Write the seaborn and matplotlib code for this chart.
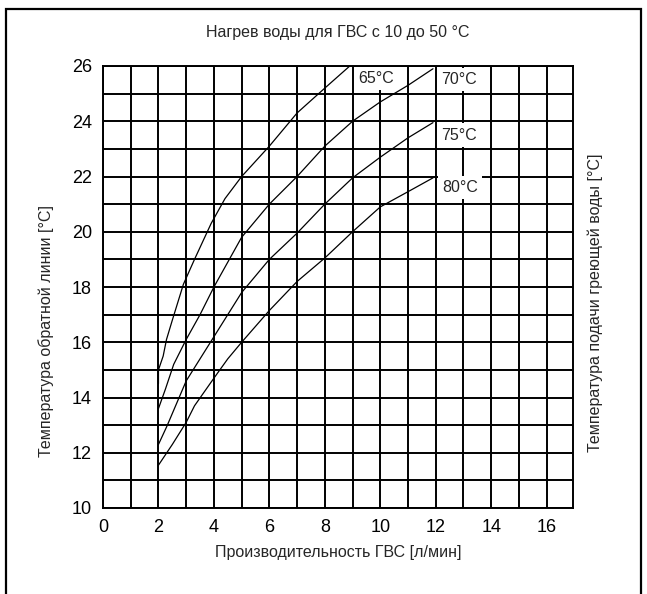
import matplotlib
matplotlib.use("Agg")
import matplotlib.pyplot as plt
import seaborn as sns
import pandas as pd
from matplotlib.patches import Rectangle

# ---- data ----
x65 = [2.0, 2.0, 2.17, 2.29, 2.5, 2.9, 3.3, 3.9, 4.4, 5.0, 6.0, 7.0, 8.0, 8.9]
y65 = [14.5, 15.0, 15.5, 16.1, 16.8, 18.1, 19.0, 20.3, 21.2, 22.0, 23.1, 24.3, 25.2, 26.0]

x70 = [2.0, 2.25, 2.55, 3.0, 3.5, 4.0, 4.5, 5.0, 6.0, 7.0, 8.0, 9.0, 10.0, 11.0, 11.9]
y70 = [13.6, 14.3, 15.2, 16.1, 17.0, 18.0, 18.9, 19.8, 21.0, 22.0, 23.1, 24.0, 24.7, 25.3, 25.9]

x75 = [2.0, 2.3, 3.0, 3.5, 4.0, 4.5, 5.0, 6.0, 7.0, 8.0, 9.0, 10.0, 11.0, 11.9]
y75 = [12.3, 12.95, 14.6, 15.4, 16.2, 17.0, 17.8, 19.0, 19.95, 21.0, 21.95, 22.7, 23.4, 23.95]

x80 = [2.0, 2.5, 3.0, 3.3, 4.0, 4.5, 5.0, 6.0, 7.0, 8.0, 9.0, 10.0, 11.0, 11.9]
y80 = [11.55, 12.3, 13.1, 13.7, 14.7, 15.4, 16.0, 17.15, 18.2, 19.05, 20.0, 20.9, 21.45, 21.95]

curve_names = ["65°C", "70°C", "75°C", "80°C"]
label_x = [9.85, 12.85, 12.85, 12.88]
label_y = [25.55, 25.5, 23.5, 21.6]

x_ticks = list(range(0, 17))
y_ticks = list(range(10, 27))
x_ticklabels = [str(v) if v % 2 == 0 else "" for v in x_ticks]
y_ticklabels = [str(v) if v % 2 == 0 else "" for v in y_ticks]

title = "Нагрев воды для ГВС с 10 до 50 °C"
xlabel = "Производительность ГВС [л/мин]"
ylabel_left = "Температура обратной линии [°C]"
ylabel_right = "Температура подачи греющей воды [°C]"

frames = []
for name, xs, ys in zip(curve_names, [x65, x70, x75, x80], [y65, y70, y75, y80]):
    frames.append(pd.DataFrame({"flow": xs, "temp": ys, "curve": name}))
df = pd.concat(frames, ignore_index=True)

# ---- plotting ----
sns.set_style("white")
plt.rcParams["font.family"] = ["Liberation Sans", "DejaVu Sans"]

fig = plt.figure(figsize=(6.47, 5.94), dpi=100)
ax = fig.add_axes([103 / 647, 1 - 508 / 594, 470 / 647, 442 / 594])

sns.lineplot(data=df, x="flow", y="temp", hue="curve", units="curve",
             estimator=None, sort=False, palette=["black"] * 4,
             linewidth=0.9, legend=False, ax=ax, zorder=3)

ax.set_xlim(0, 16.95)
ax.set_ylim(10, 26)
ax.set_xticks(x_ticks)
ax.set_xticklabels(x_ticklabels)
ax.set_yticks(y_ticks)
ax.set_yticklabels(y_ticklabels)
ax.tick_params(length=0, pad=8, labelsize=13, colors="black")
ax.grid(True, color="black", linewidth=1.4)
ax.set_axisbelow(True)
for sp in ax.spines.values():
    sp.set_visible(True)
    sp.set_color("black")
    sp.set_linewidth(1.4)

for name, lx, ly in zip(curve_names, label_x, label_y):
    ax.text(lx, ly, name, ha="center", va="center", fontsize=11.5,
            zorder=5, bbox=dict(facecolor="white", edgecolor="none", pad=3))

ax.set_xlabel(xlabel, fontsize=11.5)
ax.xaxis.set_label_coords(0.5, -0.083)
ax.set_ylabel(ylabel_left, fontsize=11.5)
ax.yaxis.set_label_coords(-0.105, 0.40)
ax.text(1.047, 0.464, ylabel_right, rotation=90, ha="center", va="center",
        fontsize=11.5, transform=ax.transAxes)

fig.text(338 / 647, 1 - 32 / 594, title, ha="center", va="center", fontsize=11.5)

fig.patches.append(Rectangle((6 / 647, -0.05), (641 - 6) / 647, 1.05 - 9 / 594,
                             transform=fig.transFigure, fill=False,
                             edgecolor="black", linewidth=1.6))

fig.savefig("out.png", dpi=100)
